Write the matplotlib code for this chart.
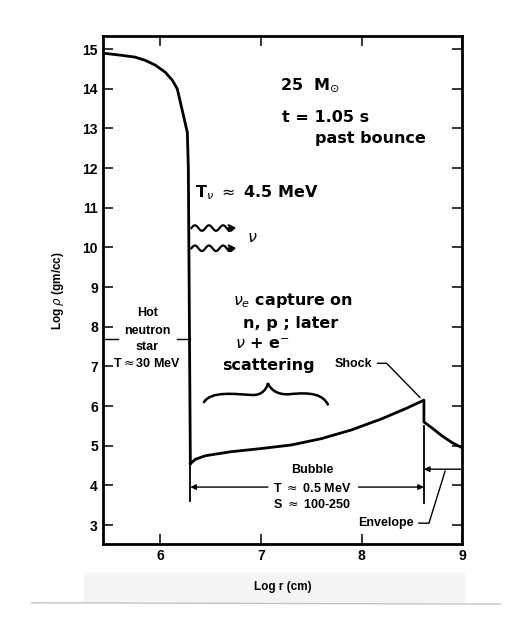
import matplotlib.pyplot as plt
import numpy as np
from matplotlib.path import Path
from matplotlib.patches import PathPatch, Rectangle
from matplotlib.lines import Line2D

# density profile, log r (cm) vs log rho (gm/cc)
core_r = [5.43, 5.6, 5.75, 5.85, 5.95, 6.05, 6.12, 6.17, 6.27, 6.28, 6.3]
core_rho = [14.9, 14.85, 14.8, 14.72, 14.6, 14.42, 14.22, 14.0, 12.9, 12.0, 4.55]

bubble_r = [6.3, 6.35, 6.45, 6.7, 7.0, 7.3, 7.6, 7.9, 8.2, 8.45, 8.62,
            8.62, 8.7, 8.8, 8.9, 9.0]
bubble_rho = [4.55, 4.66, 4.75, 4.85, 4.93, 5.02, 5.18, 5.4, 5.68, 5.95, 6.15,
              5.6, 5.45, 5.25, 5.08, 4.95]

yticks = list(range(3, 16))
xticks = [6, 7, 8, 9]

r_ns = 6.3       # edge of neutron star
r_shock = 8.62   # shock position

hand = dict(family='DejaVu Sans', fontsize=11.5, fontweight='semibold',
            color='black')
prnt = dict(family='Liberation Sans', fontsize=9, fontweight='bold')

fig = plt.figure(figsize=(5.27, 6.44), dpi=100)
ax = fig.add_axes([0.195, 0.155, 0.682, 0.789])

ax.plot(core_r, core_rho, color='black', lw=2.0, solid_joinstyle='round')
ax.plot(bubble_r, bubble_rho, color='black', lw=2.0, solid_joinstyle='round')

# boundary lines
ax.plot([r_ns, r_ns], [4.55, 3.62], color='black', lw=1.3)
ax.plot([r_shock, r_shock], [5.5, 3.55], color='black', lw=1.3)

ax.set_xlim(5.43, 9.0)
ax.set_ylim(2.52, 15.33)
ax.set_xticks(xticks)
ax.set_yticks(yticks)
ax.tick_params(direction='in', top=True, right=True, length=7, width=1.1,
               labelsize=10)
for lab in ax.get_xticklabels() + ax.get_yticklabels():
    lab.set_fontweight('bold')
    lab.set_family('Liberation Sans')
for s in ax.spines.values():
    s.set_linewidth(2.0)

ax.set_xlabel('Log r (cm)', fontsize=8.5, fontweight='bold',
              family='Liberation Sans', labelpad=13)
ax.set_ylabel(r'Log $\rho$ (gm/cc)', fontsize=8.5, fontweight='bold',
              family='Liberation Sans', labelpad=12)

# hot neutron star
for txt, yy in [('Hot', 8.34), ('neutron', 7.89), ('star', 7.49),
                (r'T$\approx$30 MeV', 7.08)]:
    ax.text(5.87, yy, txt, ha='center', va='center', **prnt)
ax.plot([5.43, 5.58], [7.7, 7.7], color='black', lw=1.0)
ax.plot([6.17, 6.3], [7.7, 7.7], color='black', lw=1.0)

# bubble
for txt, yy in [('Bubble', 4.39), (r'T $\approx$ 0.5 MeV', 3.93),
                (r'S $\approx$ 100-250', 3.53)]:
    ax.text(7.51, yy, txt, ha='center', va='center', **prnt)
ax.annotate('', xy=(r_ns, 3.96), xytext=(7.07, 3.96),
            arrowprops=dict(arrowstyle='-|>', color='black', lw=1.0,
                            mutation_scale=8, shrinkA=0, shrinkB=0))
ax.annotate('', xy=(r_shock, 3.96), xytext=(7.97, 3.96),
            arrowprops=dict(arrowstyle='-|>', color='black', lw=1.0,
                            mutation_scale=8, shrinkA=0, shrinkB=0))

# envelope
ax.annotate('', xy=(r_shock, 4.41), xytext=(9.0, 4.41),
            arrowprops=dict(arrowstyle='-|>', color='black', lw=1.0,
                            mutation_scale=8, shrinkA=0, shrinkB=0))
ax.text(8.24, 3.05, 'Envelope', ha='center', va='center', **prnt)
ax.plot([8.57, 8.67, 8.83], [3.05, 3.05, 4.36], color='black', lw=1.0)

# shock
ax.text(7.92, 7.06, 'Shock', ha='center', va='center', **prnt)
ax.plot([8.16, 8.25, 8.58], [7.08, 7.08, 6.22], color='black', lw=1.0)

# handwritten notes
ax.text(7.19, 14.09, r'25  M$_{\odot}$', ha='left', va='center', **hand)
ax.text(7.21, 13.28, 't = 1.05 s', ha='left', va='center', **hand)
ax.text(7.54, 12.76, 'past bounce', ha='left', va='center', **hand)
ax.text(6.35, 11.39, r'T$_\nu$ $\approx$ 4.5 MeV', ha='left', va='center',
        **hand)
ax.text(6.72, 8.67, r'$\nu_e$ capture on', ha='left', va='center', **hand)
ax.text(6.82, 8.09, 'n, p ; later', ha='left', va='center', **hand)
ax.text(6.74, 7.56, r'$\nu$ + e$^{-}$', ha='left', va='center', **hand)
ax.text(6.62, 7.03, 'scattering', ha='left', va='center', **hand)
ax.text(6.86, 10.26, r'$\nu$', ha='left', va='center', **hand)

# wavy neutrino arrows
wx = np.linspace(r_ns + 0.01, 6.72, 60)
for y0 in [10.49, 9.98]:
    wy = y0 + 0.07 * np.sin((wx - wx[0]) / 0.42 * 2 * np.pi * 3)
    ax.plot(wx, wy, color='black', lw=1.6)
    ax.annotate('', xy=(6.76, y0), xytext=(6.68, y0),
                arrowprops=dict(arrowstyle='->', color='black', lw=1.6,
                                mutation_scale=10, shrinkA=0, shrinkB=0))

# curly brace
verts = [(6.43, 6.08), (6.50, 6.40), (6.75, 6.30), (6.92, 6.28),
         (7.02, 6.28), (7.06, 6.45), (7.07, 6.58),
         (7.09, 6.45), (7.15, 6.28), (7.28, 6.30),
         (7.50, 6.36), (7.62, 6.30), (7.67, 6.02)]
codes = [Path.MOVETO, Path.CURVE4, Path.CURVE4, Path.CURVE4,
         Path.CURVE4, Path.CURVE4, Path.CURVE4,
         Path.CURVE4, Path.CURVE4, Path.CURVE4,
         Path.CURVE4, Path.CURVE4, Path.CURVE4]
ax.add_patch(PathPatch(Path(verts, codes), fill=False, lw=1.8,
                       edgecolor='black'))

# scan residue below the plot
fig.add_artist(Rectangle((0.16, 0.065), 0.72, 0.045, transform=fig.transFigure,
                         color='#f5f5f5', zorder=-1))
fig.add_artist(Line2D([0.06, 0.95], [0.064, 0.062], transform=fig.transFigure,
                      color='#c4c4c4', lw=1.0))

fig.savefig('out.png', dpi=100)
